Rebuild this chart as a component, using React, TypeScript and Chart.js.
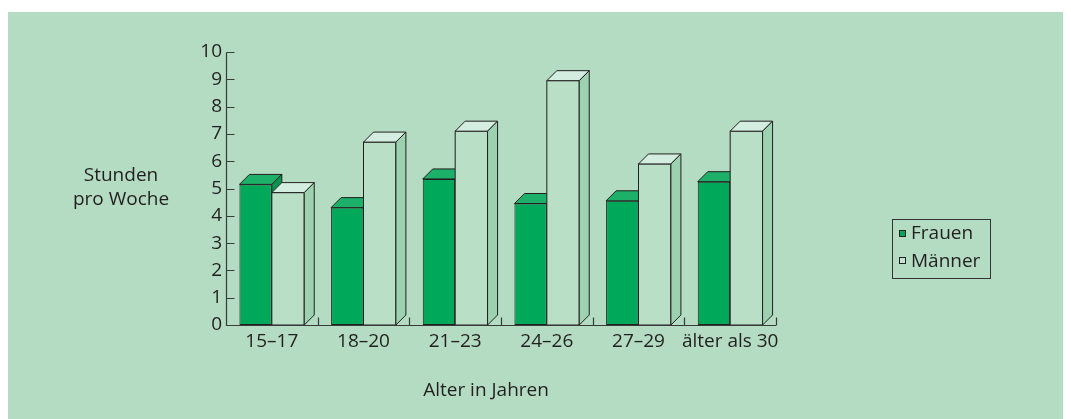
import React, { useEffect, useRef } from "react";
import { Chart, registerables } from "chart.js";
Chart.register(...registerables);

const categories = ["15–17", "18–20", "21–23", "24–26", "27–29", "älter als 30"];
const frauen = [5.15, 4.3, 5.35, 4.45, 4.55, 5.25];
const maenner = [4.85, 6.7, 7.1, 8.95, 5.9, 7.1];
const seriesNames = ["Frauen", "Männer"];
const yTitleLines = ["Stunden", "pro Woche"];
const xTitle = "Alter in Jahren";
const yMin = 0;
const yMax = 10;

const BG = "#b3dcc2";
const INK = "#231f20";
const AXIS = "#3a3a3a";
const F_FRONT = "#00a85a";
const F_TOP = "#1cb068";
const F_SIDE = "#0a9450";
const M_FRONT = "#b9dfc7";
const M_TOP = "#d3ede0";
const M_SIDE = "#9dd2b0";
const FONT = "'Open Sans', sans-serif";
const DEPTH = 10;

const threeD = {
  id: "threeD",
  afterDatasetsDraw(chart: any) {
    const ctx = chart.ctx;
    const d = DEPTH;
    const faces = (el: any, top: string, side: string, redrawFront?: string) => {
      const { x, y, base, width } = el.getProps(["x", "y", "base", "width"], true);
      const l = x - width / 2;
      const r = x + width / 2;
      ctx.save();
      ctx.strokeStyle = INK;
      ctx.lineWidth = 1;
      ctx.lineJoin = "miter";
      if (redrawFront) {
        ctx.fillStyle = redrawFront;
        ctx.beginPath();
        ctx.rect(l, y, r - l, base - y);
        ctx.fill();
        ctx.stroke();
      }
      ctx.fillStyle = top;
      ctx.beginPath();
      ctx.moveTo(l, y);
      ctx.lineTo(l + d, y - d);
      ctx.lineTo(r + d, y - d);
      ctx.lineTo(r, y);
      ctx.closePath();
      ctx.fill();
      ctx.stroke();
      ctx.fillStyle = side;
      ctx.beginPath();
      ctx.moveTo(r, y);
      ctx.lineTo(r + d, y - d);
      ctx.lineTo(r + d, base - d);
      ctx.lineTo(r, base);
      ctx.closePath();
      ctx.fill();
      ctx.stroke();
      ctx.restore();
    };
    const m0 = chart.getDatasetMeta(0);
    const m1 = chart.getDatasetMeta(1);
    m0.data.forEach((el: any) => faces(el, F_TOP, F_SIDE));
    m1.data.forEach((el: any) => faces(el, M_TOP, M_SIDE, M_FRONT));
  },
};

const axesAndText = {
  id: "axesAndText",
  afterDraw(chart: any) {
    const ctx = chart.ctx;
    const { left, right, top, bottom } = chart.chartArea;
    const xs = chart.scales.x;
    const ys = chart.scales.y;
    ctx.save();
    ctx.strokeStyle = AXIS;
    ctx.lineWidth = 1.2;
    ctx.beginPath();
    const L = Math.round(left) + 0.5;
    const B = Math.round(bottom) + 0.5;
    ctx.moveTo(L, Math.round(top) + 0.5);
    ctx.lineTo(L, B);
    ctx.lineTo(right, B);
    for (let v = yMin; v <= yMax; v++) {
      const yy = Math.round(ys.getPixelForValue(v)) + 0.5;
      ctx.moveTo(L, yy);
      ctx.lineTo(L + 8, yy);
    }
    for (let i = 0; i <= categories.length; i++) {
      const xx = Math.round(xs.getPixelForValue(i - 0.5)) + 0.5;
      ctx.moveTo(xx, B);
      ctx.lineTo(xx, B - 8);
    }
    ctx.stroke();

    // axis titles
    ctx.fillStyle = INK;
    ctx.font = "19px " + FONT;
    ctx.textAlign = "center";
    ctx.textBaseline = "alphabetic";
    ctx.fillText(yTitleLines[0], 113, 168.5);
    ctx.fillText(yTitleLines[1], 113, 193);
    ctx.fillText(xTitle, 478, 383.5);

    // legend
    ctx.strokeStyle = "#333";
    ctx.lineWidth = 1;
    ctx.strokeRect(884.5, 207.5, 98, 59);
    const swatches = [F_FRONT, "#c6e6d2"];
    const rows = [218.5, 245.5];
    const baselines = [227, 255];
    for (let i = 0; i < 2; i++) {
      ctx.fillStyle = swatches[i];
      ctx.fillRect(891.5, rows[i], 6, 6);
      ctx.strokeStyle = INK;
      ctx.strokeRect(891.5, rows[i], 6, 6);
      ctx.fillStyle = INK;
      ctx.textAlign = "left";
      ctx.fillText(seriesNames[i], 903, baselines[i]);
    }
    ctx.restore();
  },
};

export default function App() {
  const ref = useRef<HTMLCanvasElement | null>(null);
  useEffect(() => {
    if (!ref.current) return;
    const chart = new Chart(ref.current, {
      type: "bar",
      data: {
        labels: categories,
        datasets: [
          {
            label: seriesNames[0],
            data: frauen,
            backgroundColor: F_FRONT,
            borderColor: INK,
            borderWidth: 1,
            borderSkipped: false,
          },
          {
            label: seriesNames[1],
            data: maenner,
            backgroundColor: M_FRONT,
            borderColor: INK,
            borderWidth: 1,
            borderSkipped: false,
          },
        ],
      },
      options: {
        responsive: false,
        devicePixelRatio: 1,
        animation: false,
        events: [],
        layout: { padding: { left: 0, top: 40, right: 287, bottom: 0 } },
        datasets: { bar: { categoryPercentage: 0.707, barPercentage: 1 } },
        plugins: {
          legend: { display: false },
          tooltip: { enabled: false },
          title: { display: false },
        },
        scales: {
          x: {
            type: "category",
            offset: true,
            grid: { display: false, drawTicks: false },
            border: { display: false },
            ticks: {
              color: INK,
              font: { family: FONT, size: 19 },
              padding: 5,
              maxRotation: 0,
              autoSkip: false,
            },
            afterFit: (s: any) => {
              s.height = 94;
            },
          },
          y: {
            min: yMin,
            max: yMax,
            grid: { display: false, drawTicks: false },
            border: { display: false },
            ticks: {
              stepSize: 1,
              color: INK,
              font: { family: FONT, size: 19 },
              padding: 4,
            },
            afterFit: (s: any) => {
              s.width = 218;
            },
          },
        },
      },
      plugins: [threeD, axesAndText],
    });
    return () => chart.destroy();
  }, []);
  return (
    <div
      style={{
        position: "fixed",
        left: 8,
        top: 12,
        width: 1055,
        height: 407,
        background: BG,
      }}
    >
      <canvas ref={ref} width={1055} height={407} style={{ display: "block" }} />
    </div>
  );
}
